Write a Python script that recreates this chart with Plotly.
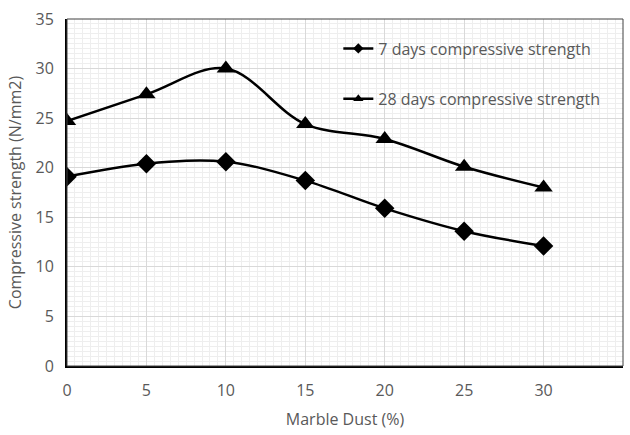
import plotly.graph_objects as go

marble_dust = [0, 5, 10, 15, 20, 25, 30]
strength_7d = [19.1, 20.4, 20.6, 18.7, 15.9, 13.6, 12.1]
strength_28d = [24.7, 27.4, 30.0, 24.4, 22.9, 20.1, 18.0]
name_7d = "7 days compressive strength"
name_28d = "28 days compressive strength"

fig = go.Figure()
fig.add_trace(go.Scatter(x=marble_dust, y=strength_7d, mode="lines+markers",
                         line=dict(color="black", width=2.5, shape="spline"),
                         marker=dict(symbol="diamond", size=15, color="black"),
                         showlegend=False))
fig.add_trace(go.Scatter(x=marble_dust, y=strength_28d, mode="lines+markers",
                         line=dict(color="black", width=2.5, shape="spline"),
                         marker=dict(symbol="triangle-up", size=16, color="black"),
                         showlegend=False))
# legend entries
fig.add_trace(go.Scatter(x=[None], y=[None], mode="lines+markers", name=name_7d,
                         line=dict(color="black", width=2.5),
                         marker=dict(symbol="diamond", size=8, color="black"),
                         legend="legend"))
fig.add_trace(go.Scatter(x=[None], y=[None], mode="lines+markers", name=name_28d,
                         line=dict(color="black", width=2.5),
                         marker=dict(symbol="triangle-up", size=9, color="black"),
                         legend="legend2"))

font_family = "Open Sans, sans-serif"
txt_color = "#595959"
fs = 16
leg_common = dict(bgcolor="rgba(0,0,0,0)", font=dict(family=font_family, size=fs, color=txt_color),
                  xanchor="left", yanchor="middle", itemwidth=30)

fig.update_layout(
    width=630, height=435,
    margin=dict(l=67, r=7, t=19, b=69),
    paper_bgcolor="white", plot_bgcolor="white",
    font=dict(family=font_family, size=fs, color=txt_color),
    legend=dict(x=0.488, y=0.915, **leg_common),
    legend2=dict(x=0.488, y=0.77, **leg_common),
    xaxis=dict(range=[0, 35], dtick=5, tick0=0, showgrid=True, gridcolor="#d9d9d9", gridwidth=1,
               minor=dict(dtick=0.5, showgrid=True, gridcolor="#eeeeee", gridwidth=1),
               showline=True, linecolor="black", linewidth=2, zeroline=False,
               ticks="", ticklabelstandoff=9, automargin=False,
               title=dict(text="Marble Dust (%)", standoff=14, font=dict(size=fs, color=txt_color))),
    yaxis=dict(range=[0, 35], dtick=5, tick0=0, showgrid=True, gridcolor="#d9d9d9", gridwidth=1,
               minor=dict(dtick=0.5, showgrid=True, gridcolor="#eeeeee", gridwidth=1),
               showline=True, linecolor="black", linewidth=2, zeroline=False,
               ticks="", ticklabelstandoff=8, automargin=False,
               title=dict(text="Compressive strength (N/mm2)", standoff=10, font=dict(size=fs, color=txt_color))),
)
fig.add_shape(type="rect", xref="paper", yref="paper", x0=0, y0=0, x1=1, y1=1,
              line=dict(color="#404040", width=1), layer="above")
fig.write_html("out.html", config={"displayModeBar": False},
               post_script="document.body.style.margin='0';")
